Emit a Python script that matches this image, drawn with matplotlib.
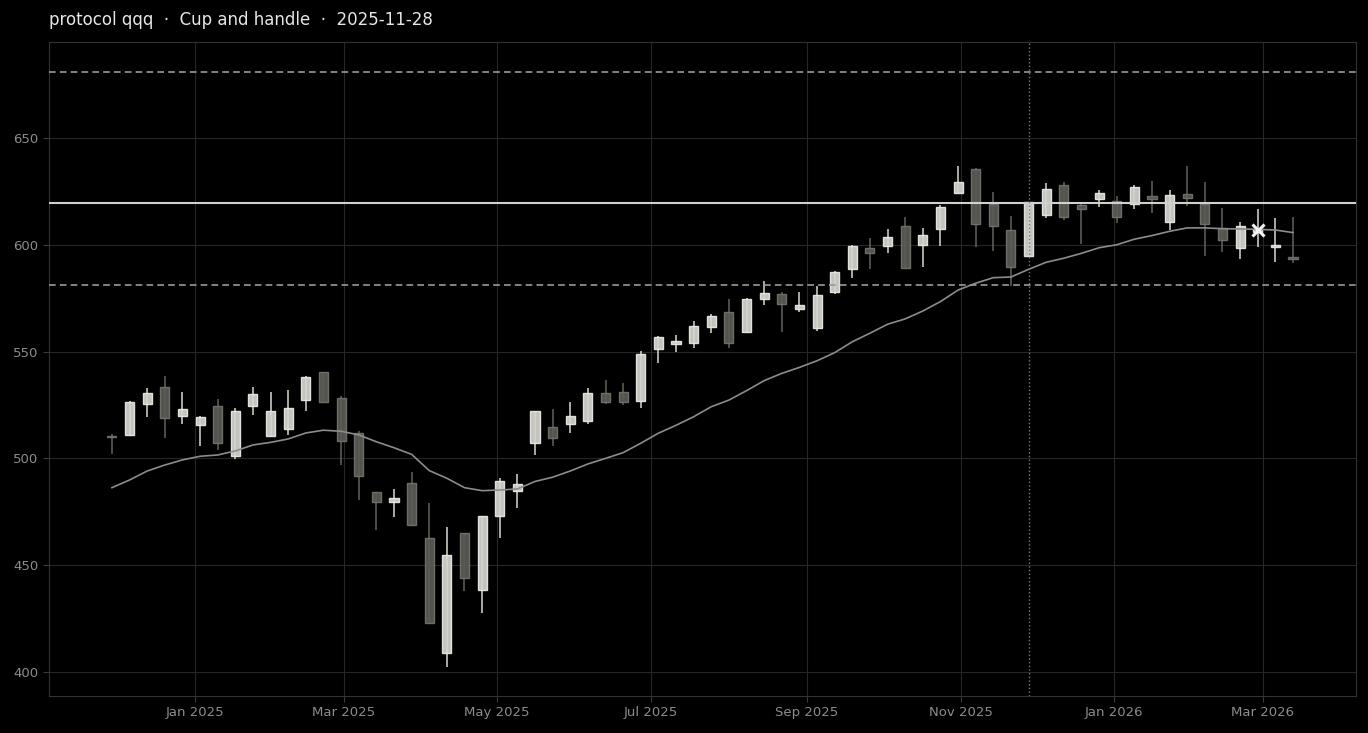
import matplotlib
matplotlib.use("Agg")
from matplotlib import pyplot as plt
import matplotlib.dates as mdates
import numpy as np
import pandas as pd

# weekly bars, Fridays
dates = pd.date_range("2024-11-29", periods=68, freq="W-FRI")

opens = [510.3, 510.8, 525.3, 533.6, 519.7, 515.5, 524.4, 501.1, 524.4, 510.7,
         513.6, 527.3, 540.3, 528.1, 511.8, 484.1, 479.4, 488.3, 462.6, 408.8,
         464.9, 438.3, 472.9, 484.6, 507.1, 514.7, 516.0, 517.4, 530.5, 531.0,
         526.8, 551.1, 553.4, 553.9, 561.7, 568.4, 559.1, 574.5, 576.8, 570.1,
         561.2, 578.1, 588.5, 598.4, 599.4, 608.7, 599.9, 607.3, 624.4, 635.3,
         619.1, 606.8, 594.9, 613.8, 628.0, 618.8, 621.4, 620.4, 619.3, 622.8,
         610.5, 623.7, 619.0, 607.9, 598.4, 606.0, 598.9, 594.5]
highs = [511.3, 527.0, 533.1, 538.7, 531.2, 519.8, 527.7, 523.7, 533.6, 531.2,
         531.9, 538.7, 540.6, 529.2, 513.0, 484.3, 485.8, 493.5, 479.3, 467.7,
         465.0, 473.0, 490.7, 492.6, 522.3, 523.0, 526.3, 532.8, 536.6, 535.2,
         550.3, 557.3, 557.6, 564.5, 567.6, 574.5, 575.0, 583.2, 577.8, 577.8,
         580.9, 587.6, 600.0, 603.0, 607.3, 613.2, 608.0, 618.4, 636.9, 635.8,
         624.6, 613.6, 620.2, 628.8, 629.3, 619.1, 625.7, 622.8, 628.0, 629.8,
         625.6, 636.9, 629.5, 617.4, 610.6, 616.7, 612.7, 613.2]
lows = [502.0, 510.5, 519.2, 509.7, 516.0, 505.8, 503.9, 499.6, 520.3, 510.2,
        510.8, 522.2, 525.8, 496.8, 480.4, 466.5, 472.6, 468.4, 422.5, 402.2,
        437.8, 427.8, 462.6, 476.6, 501.6, 505.8, 511.8, 516.0, 525.5, 524.9,
        523.5, 544.5, 549.8, 551.5, 558.6, 551.5, 558.8, 571.8, 559.0, 568.4,
        559.6, 576.8, 584.6, 588.5, 596.1, 589.0, 589.8, 599.6, 624.1, 598.8,
        597.1, 580.7, 594.6, 612.4, 611.5, 600.3, 617.6, 610.1, 616.7, 614.8,
        606.8, 618.2, 594.8, 596.6, 593.2, 598.9, 592.1, 591.4]
closes = [509.8, 526.5, 530.8, 518.8, 523.0, 519.2, 507.1, 522.1, 530.0, 522.3,
          523.5, 538.3, 526.3, 508.0, 491.7, 479.4, 481.3, 469.0, 422.8, 454.6,
          443.9, 472.9, 489.3, 488.2, 522.0, 509.4, 519.9, 530.5, 526.6, 526.6,
          548.7, 556.7, 554.8, 561.8, 566.8, 553.9, 574.8, 577.6, 572.1, 571.7,
          576.4, 587.1, 599.4, 596.1, 603.5, 589.3, 604.4, 617.6, 629.3, 609.6,
          608.7, 589.8, 619.9, 626.0, 613.2, 616.9, 624.2, 612.9, 627.0, 621.4,
          623.2, 621.8, 609.6, 602.1, 609.0, 607.5, 599.9, 593.5]
ma = [486.3, 489.9, 494.1, 496.9, 499.3, 501.0, 501.6, 503.5, 506.3, 507.5,
      509.1, 511.9, 513.2, 512.7, 511.0, 507.8, 505.0, 501.9, 494.3, 490.7,
      486.3, 484.9, 485.2, 485.7, 489.2, 491.2, 494.1, 497.4, 500.0, 502.7,
      507.1, 511.8, 515.5, 519.5, 524.2, 527.3, 531.7, 536.4, 539.8, 542.6,
      545.7, 549.5, 554.6, 558.6, 562.8, 565.3, 569.0, 573.4, 578.8, 582.0,
      584.6, 584.9, 588.5, 591.8, 593.7, 596.0, 598.6, 600.0, 602.6, 604.3,
      606.3, 607.9, 607.9, 607.5, 607.4, 607.2, 606.9, 605.7]

resistance = 619.6
upper_band = 680.9
lower_band = 581.2
pattern_date = "2025-11-28"
marker_date = "2026-02-27"
marker_price = 606.9
title = "protocol qqq  \u00b7  Cup and handle  \u00b7  2025-11-28"

fig = plt.figure(figsize=(13.68, 7.33), dpi=100, facecolor="black")
ax = fig.add_axes([0.0358, 0.0505, 0.9554, 0.8922])
ax.set_facecolor("black")

x = mdates.date2num(dates)
o = np.array(opens)
c = np.array(closes)
up = c >= o

ax.grid(True, color="#262626", linewidth=0.8, zorder=0)

# wicks
ax.vlines(x[up], np.array(lows)[up], np.array(highs)[up], color="#d8d8d4", linewidth=1.1, zorder=2)
ax.vlines(x[~up], np.array(lows)[~up], np.array(highs)[~up], color="#64635e", linewidth=1.1, zorder=2)

# bodies
bw = 3.6
ax.bar(x[up], (c - o)[up], bottom=o[up], width=bw, color="#d6d5d0",
       edgecolor="#ecebe7", linewidth=1.0, alpha=0.92, zorder=3)
ax.bar(x[~up], (o - c)[~up], bottom=c[~up], width=bw, color="#5c5b56",
       edgecolor="#74736e", linewidth=1.0, alpha=0.92, zorder=3)

ax.plot(x, ma, color="#8c8c8c", linewidth=1.2, zorder=4)

ax.axhline(resistance, color="#d0d0d0", linewidth=1.5, zorder=4)
ax.axhline(upper_band, color="#9a9a9a", linewidth=1.2, linestyle=(0, (4, 2.5)), zorder=4)
ax.axhline(lower_band, color="#9a9a9a", linewidth=1.2, linestyle=(0, (4, 2.5)), zorder=4)
ax.axvline(mdates.date2num(pd.Timestamp(pattern_date)), color="#7a7a7a",
           linewidth=1.0, linestyle=":", zorder=4)

ax.plot([mdates.date2num(pd.Timestamp(marker_date))], [marker_price], marker="x",
        color="#f2f2f2", markersize=9, markeredgewidth=2.2, zorder=5)

ax.set_xlim(x[0] - 25, x[-1] + 25)
ax.set_ylim(388.8, 694.9)
ax.xaxis.set_major_locator(mdates.MonthLocator(bymonth=[1, 3, 5, 7, 9, 11]))
ax.xaxis.set_major_formatter(mdates.DateFormatter("%b %Y"))
ax.set_yticks([400, 450, 500, 550, 600, 650])

ax.tick_params(colors="#3a3a3a", labelcolor="#8c8c8c", labelsize=9.5, length=4, width=0.8)
for s in ax.spines.values():
    s.set_color("#333333")
    s.set_linewidth(0.8)

fig.text(49 / 1368, 1 - 20 / 733, title, color="#e6e6e6", fontsize=12,
         ha="left", va="center")

fig.savefig("out.png", dpi=100, facecolor="black")
